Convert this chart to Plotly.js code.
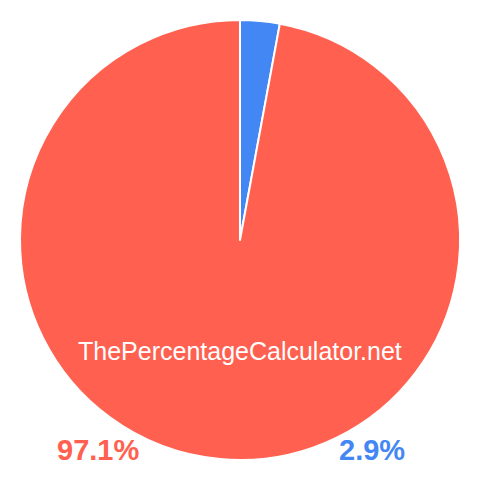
<!DOCTYPE html>
<html>
<head>
<meta charset="utf-8">
<script src="https://cdn.plot.ly/plotly-3.0.1.min.js"></script>
<style>html,body{margin:0;padding:0;background:#fff;}#chart{width:480px;height:480px;}</style>
</head>
<body>
<div id="chart"></div>
<script>
const labels = ["Part", "Rest"];
const values = [2.9, 97.1];
const colors = ["#4387f5", "#ff604f"];
const watermark = "ThePercentageCalculator.net";

const data = [{
  type: "pie",
  labels: labels,
  values: values,
  sort: false,
  direction: "clockwise",
  rotation: 0,
  marker: {colors: colors, line: {color: "#ffffff", width: 2}},
  textinfo: "none",
  hoverinfo: "none",
  showlegend: false,
  domain: {x: [20/480, 460/480], y: [19/480, 461/480]}
}];

const layout = {
  width: 480, height: 480,
  margin: {l: 0, r: 0, t: 0, b: 0},
  paper_bgcolor: "#ffffff",
  showlegend: false,
  annotations: [
    {text: watermark, x: 240/480, y: 1 - 351/480, xref: "paper", yref: "paper", showarrow: false,
     xanchor: "center", yanchor: "middle", font: {family: "Liberation Sans, Arial, sans-serif", size: 25, color: "#ffffff"}},
    {text: "<b>" + values[1].toFixed(1) + "%</b>", x: 98/480, y: 1 - 450/480, xref: "paper", yref: "paper", showarrow: false,
     xanchor: "center", yanchor: "middle", font: {family: "Liberation Sans, Arial, sans-serif", size: 29, color: colors[1]}},
    {text: "<b>" + values[0].toFixed(1) + "%</b>", x: 371.5/480, y: 1 - 450/480, xref: "paper", yref: "paper", showarrow: false,
     xanchor: "center", yanchor: "middle", font: {family: "Liberation Sans, Arial, sans-serif", size: 29, color: colors[0]}}
  ]
};

Plotly.newPlot("chart", data, layout, {staticPlot: true, displayModeBar: false});
</script>
</body>
</html>
